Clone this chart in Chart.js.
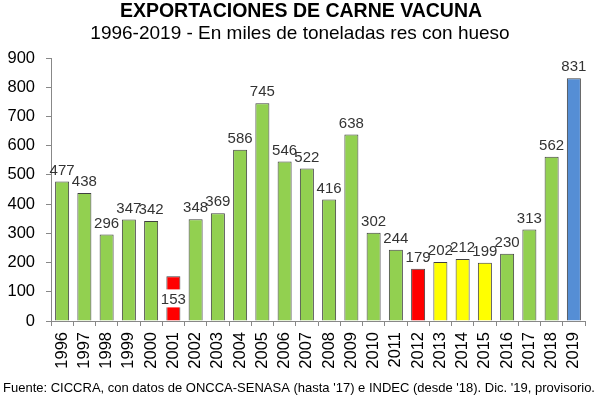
<!DOCTYPE html>
<html>
<head>
<meta charset="utf-8">
<script src="https://cdn.jsdelivr.net/npm/chart.js@4.4.1/dist/chart.umd.min.js"></script>
<style>
  html, body { margin: 0; padding: 0; background: #fff; }
  #wrap { width: 600px; height: 399px; position: relative; }
</style>
</head>
<body>
<div id="wrap"><canvas id="exportChart"></canvas></div>
<script>
// data
const years = ['1996','1997','1998','1999','2000','2001','2002','2003','2004','2005','2006','2007',
               '2008','2009','2010','2011','2012','2013','2014','2015','2016','2017','2018','2019'];
const exports = [477, 438, 296, 347, 342, 153, 348, 369, 586, 745, 546, 522,
                 416, 638, 302, 244, 179, 202, 212, 199, 230, 313, 562, 831];
const yTicks = [0, 100, 200, 300, 400, 500, 600, 700, 800, 900];

const titleText = 'EXPORTACIONES DE CARNE VACUNA';
const subtitleText = '1996-2019 - En miles de toneladas res con hueso';
const sourceText = "Fuente: CICCRA, con datos de ONCCA-SENASA (hasta '17) e INDEC (desde '18). Dic. '19, provisorio.";

// colours per year
function barColor(year) {
  if (year === '2001' || year === '2012') return '#FF0000';
  if (year === '2013' || year === '2014' || year === '2015') return '#FFFF00';
  if (year === '2019') return '#558ED5';
  return '#92D050';
}

const FONT = 'Arial, "Liberation Sans", sans-serif';

// titles, footer and value labels
const textPlugin = {
  id: 'textPlugin',
  afterDatasetsDraw(chart) {
    const ctx = chart.ctx;
    ctx.save();
    ctx.fillStyle = '#000';
    ctx.textAlign = 'center';
    ctx.textBaseline = 'middle';
    ctx.font = 'bold 19.5px ' + FONT;
    ctx.fillText(titleText, 301, 12);
    ctx.font = '19px ' + FONT;
    ctx.fillText(subtitleText, 300, 34);
    ctx.font = '13px ' + FONT;
    ctx.fillText(sourceText, 299, 388);

    const meta = chart.getDatasetMeta(0);
    ctx.font = '15px ' + FONT;
    ctx.fillStyle = '#333';
    meta.data.forEach((bar, i) => {
      const label = String(exports[i]);
      if (years[i] === '2001') {
        const cy = (bar.y + bar.base) / 2;
        const w = ctx.measureText(label).width + 4;
        ctx.fillStyle = '#fff';
        ctx.fillRect(bar.x - w / 2, cy - 9, w, 18);
        ctx.fillStyle = '#333';
        ctx.fillText(label, bar.x, cy + 1);
      } else {
        ctx.fillText(label, bar.x, bar.y - 11);
      }
    });
    ctx.restore();
  }
};

const ctx = document.getElementById('exportChart');
new Chart(ctx, {
  type: 'bar',
  data: {
    labels: years,
    datasets: [{
      data: exports,
      backgroundColor: years.map(barColor),
      borderColor: '#404040',
      borderWidth: 1,
      categoryPercentage: 1,
      barPercentage: 0.63
    }]
  },
  options: {
    responsive: true,
    maintainAspectRatio: false,
    animation: false,
    layout: { padding: { top: 58, left: 0, right: 15, bottom: 20 } },
    plugins: {
      legend: { display: false },
      tooltip: { enabled: false }
    },
    scales: {
      x: {
        afterFit(scale) { scale.height = 58; },
        grid: { offset: true, drawOnChartArea: false, tickLength: 5, color: '#888' },
        border: { color: '#888' },
        ticks: {
          minRotation: 90, maxRotation: 90, padding: 6, autoSkip: false,
          color: '#000', font: { family: FONT, size: 16.5 }
        }
      },
      y: {
        min: 0, max: 900,
        afterFit(scale) { scale.width = 51; },
        afterBuildTicks(scale) { scale.ticks = yTicks.map(v => ({ value: v })); },
        grid: { drawOnChartArea: false, tickLength: 5, color: '#888' },
        border: { color: '#888' },
        ticks: { padding: 11, color: '#000', font: { family: FONT, size: 16.5 } }
      }
    }
  },
  plugins: [textPlugin]
});
</script>
</body>
</html>
